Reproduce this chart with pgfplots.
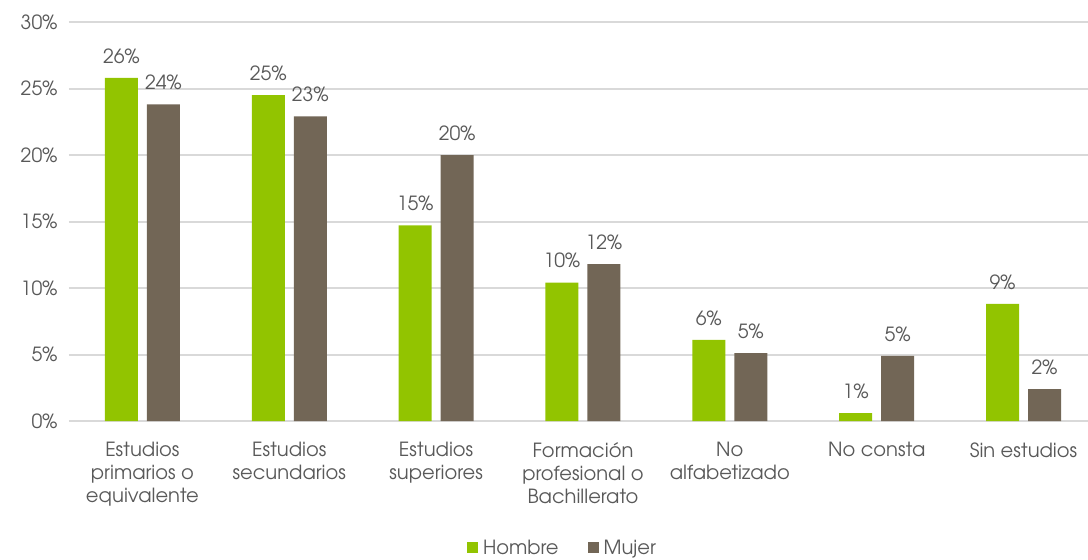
\documentclass[border=0pt]{standalone}
\usepackage{pgfplots}
\pgfplotsset{compat=1.18}
\usepackage{fontspec}
\setmainfont{TeX Gyre Adventor}
\definecolor{hombre}{HTML}{92C400}
\definecolor{mujer}{HTML}{726656}
\definecolor{txt}{HTML}{595959}
\definecolor{grd}{HTML}{D9D9D9}
\begin{document}
\begin{tikzpicture}
\useasboundingbox (-69pt,-139pt) rectangle (1019pt,421pt);
\begin{axis}[
    scale only axis,
    width=1028pt, height=399pt,
    ymin=0, ymax=30,
    xmin=-0.5, xmax=6.5,
    ybar, bar width=33pt,
    ytick={0,5,...,30},
    yticklabel={\pgfmathprintnumber{\tick}\%},
    /pgf/number format/assume math mode=true,
    xtick={0,...,6},
    xticklabels={{Estudios\\primarios o\\equivalente},{Estudios\\secundarios},{Estudios\\superiores},{Formación\\profesional o\\Bachillerato},{No\\alfabetizado},{No consta},{Sin estudios}},
    xticklabel style={align=center, font=\fontsize{19.5}{23}\selectfont, text=txt, yshift=-18pt},
    yticklabel style={font=\fontsize{19.5}{23}\selectfont, text=txt, xshift=-8pt},
    ymajorgrids, grid style={grd, line width=2pt},
    axis x line*=bottom, axis y line*=left,
    x axis line style={grd, line width=2pt, -},
    y axis line style={draw=none},
    major tick length=0pt,
    nodes near coords={\pgfmathprintnumber[fixed,precision=0]{\pgfplotspointmeta}\%},
    nodes near coords style={font=\fontsize{19.5}{23}\selectfont, text=txt, yshift=11pt},
    legend style={at={(axis description cs:0.4815,-0.318)}, anchor=center, draw=none,
        font=\fontsize{19.5}{23}\selectfont, text=txt,
        legend columns=2, /tikz/every even column/.append style={column sep=24pt},
        nodes={inner xsep=5pt}},
    legend image code/.code={\fill[#1] (0pt,-5.5pt) rectangle (11pt,5.5pt);},
    clip=false,
]
\addplot[fill=hombre, draw=none, bar shift=-21pt] coordinates {
    (0,25.8) (1,24.5) (2,14.7) (3,10.4) (4,6.1) (5,0.6) (6,8.8)};
\addplot[fill=mujer, draw=none, bar shift=21pt] coordinates {
    (0,23.8) (1,22.9) (2,20.0) (3,11.8) (4,5.1) (5,4.9) (6,2.4)};
\legend{Hombre, Mujer}
\end{axis}
\end{tikzpicture}
\end{document}
